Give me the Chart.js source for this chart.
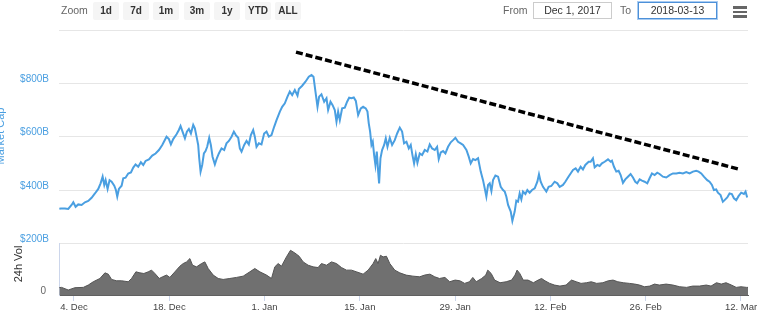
<!DOCTYPE html>
<html>
<head>
<meta charset="utf-8">
<title>Market Cap</title>
<script src="https://cdn.jsdelivr.net/npm/chart.js@4.4.1/dist/chart.umd.min.js"></script>
<style>
    html, body { margin: 0; padding: 0; background: #fff; }
    #wrap { position: relative; width: 768px; height: 332px; overflow: hidden; font-family: "Liberation Sans", Arial, sans-serif; }
    #myChart { position: absolute; left: 0; top: 0; }
    .label { position: absolute; top: 4px; font-size: 10.5px; line-height: 12px; color: #666; }
    .btn { position: absolute; top: 2px; width: 26px; height: 18px; background: #f5f5f5; border-radius: 2px;
           font-size: 10px; font-weight: bold; line-height: 18px; color: #333; text-align: center; }
    .box { position: absolute; top: 2px; width: 77px; height: 15px; border: 1px solid #ccc;
           font-size: 10.5px; line-height: 15px; color: #333; text-align: center; }
    .box.active { border-color: #4d90d8; box-shadow: 0 0 0 1px #a9ccf2; }
    .menu { position: absolute; left: 733px; width: 14px; height: 2.5px; background: #666; }
</style>
</head>
<body>
<div id="wrap">
    <canvas id="myChart" width="768" height="332"></canvas>

    <div class="label" style="left:61px">Zoom</div>
    <div class="btn" style="left:93px">1d</div>
    <div class="btn" style="left:123px">7d</div>
    <div class="btn" style="left:153px">1m</div>
    <div class="btn" style="left:184px">3m</div>
    <div class="btn" style="left:214px">1y</div>
    <div class="btn" style="left:245px">YTD</div>
    <div class="btn" style="left:275px">ALL</div>

    <div class="label" style="left:503px">From</div>
    <div class="box" style="left:533px">Dec 1, 2017</div>
    <div class="label" style="left:620px">To</div>
    <div class="box active" style="left:638px">2018-03-13</div>

    <div class="menu" style="top:6px"></div>
    <div class="menu" style="top:10.5px"></div>
    <div class="menu" style="top:15px"></div>
</div>

<script>
// Data: x values are days since 1 Dec 2017
const mcapDays = [
    0.85, 1.09, 1.67, 2.16, 2.65, 2.90, 3.24, 3.63, 4.12, 4.61, 5.10, 5.59, 6.08, 6.57, 6.91, 7.21, 7.45, 7.65, 7.94, 8.23,
    8.53, 8.92, 9.16, 9.36, 9.60, 10.0, 10.24, 10.58, 10.97, 11.37, 11.71, 12.05, 12.44, 12.83, 13.18, 13.52, 14.01, 14.5,
    14.99, 15.48, 15.97, 16.60, 16.95, 17.24, 17.58, 18.07, 18.41, 18.66, 18.95, 19.30, 19.59, 19.88, 20.18, 20.52, 20.76,
    21.01, 21.25, 21.40, 21.60, 21.84, 22.09, 22.33, 22.57, 22.87, 23.11, 23.36, 23.70, 23.99, 24.29, 24.68, 25.07, 25.41,
    25.76, 26.15, 26.49, 26.78, 27.13, 27.37, 27.62, 28.01, 28.35, 28.69, 28.99, 29.33, 29.57, 29.82, 30.16, 30.55, 30.94,
    31.29, 31.63, 32.02, 32.41, 32.76, 33.25, 33.59,
    33.98, 34.37, 34.71, 35.06, 35.45, 35.84, 36.04, 36.53, 37.01, 37.50, 37.90, 38.19, 38.48, 38.78, 39.02, 39.36, 39.76,
    40.10, 40.34, 40.69, 40.98, 41.32, 41.57, 41.81, 42.06, 42.40, 42.79, 43.13, 43.43, 43.77, 44.11, 44.41, 44.75, 45.14,
    45.48, 45.87, 46.12, 46.31, 46.51, 46.71, 46.90, 47.10, 47.29, 47.49, 47.69, 47.83, 48.03, 48.27, 48.57, 48.81, 49.06,
    49.40, 49.74, 50.13, 50.48, 50.87, 51.21, 51.50, 51.85, 52.19, 52.48, 52.73, 52.97, 53.22, 53.46, 53.80, 54.15, 54.54,
    54.93, 55.27, 55.62, 56.01, 56.35, 56.59, 56.89, 57.23, 57.57, 57.96, 58.36, 58.70, 59.04, 59.43, 59.82, 60.17, 60.66,
    61.00, 61.29, 61.64, 61.98, 62.37, 62.76, 63.10, 63.35, 63.59, 63.84, 64.08, 64.33, 64.57, 64.92, 65.31, 65.70, 66.04,
    66.29, 66.53, 66.78, 67.17, 67.41, 67.75,
    67.99, 68.24, 68.48, 68.73, 68.97, 69.32, 69.61, 69.95, 70.30, 70.69, 71.08, 71.32, 71.57, 71.91, 72.40, 72.74, 73.13,
    73.62, 74.02, 74.36, 74.85, 75.19, 75.58, 75.97, 76.32, 76.71, 77.05, 77.44, 77.78, 78.13, 78.62, 78.91, 79.25, 79.50,
    79.89, 80.23, 80.57, 80.97, 81.46, 81.85, 82.04, 82.34, 82.68, 83.02, 83.32, 83.66, 84.00, 84.39, 84.78, 85.13, 85.47,
    85.76, 86.11, 86.45, 86.84, 87.23, 87.57, 87.92, 88.31, 88.70, 89.04, 89.53, 90.02, 90.51, 91.00, 91.49, 91.98, 92.47,
    92.96, 93.45, 93.94, 94.43, 94.77, 95.16, 95.55, 96.04, 96.38, 96.73, 97.02, 97.36, 97.61, 98.00, 98.34, 98.59, 98.98,
    99.32, 99.66, 99.96, 100.30, 100.64, 101.03, 101.43, 101.67, 101.91
];
// Market cap, billions of USD
const mcapValues = [
    330, 331, 331, 329, 344, 354, 337, 346, 344, 354, 359, 371, 387, 404, 425, 450, 419, 437, 404, 437,
    431, 416, 400, 375, 404, 416, 444, 446, 462, 466, 484, 496, 487, 504, 494, 509, 515, 529,
    537, 550, 569, 600, 591, 571, 591, 609, 625, 640, 619, 594, 619, 629, 612, 644, 631,
    600, 569, 519, 469, 494, 537, 546, 562, 596, 569, 525, 496, 519, 537, 556, 550, 575,
    584, 600, 619, 606, 596, 556, 544, 569, 584, 571, 606, 625, 600, 562, 575, 571, 612,
    619, 600, 606, 637, 662, 694, 712,
    725, 750, 769, 756, 775, 754, 779, 791, 806, 825, 831, 825, 769, 712, 750, 759, 731,
    744, 700, 731, 719, 700, 656, 694, 662, 706, 709, 731, 746, 744, 747, 734, 681, 706,
    712, 706, 694, 650, 619, 569, 581, 531, 494, 544, 469, 425, 519, 550, 569, 594, 562,
    596, 569, 587, 612, 634, 619, 575, 581, 556, 569, 531, 500, 534, 502, 537, 531, 550,
    544, 571, 556, 550, 562, 516, 541, 546, 537, 562, 579, 587, 596, 581, 575, 569, 550,
    525, 500, 516, 512, 519, 469, 437, 406, 375, 419, 425, 396, 437, 454, 450, 412, 400,
    394, 375, 344, 319, 284, 319,
    360, 356, 387, 365, 394, 385, 400, 390, 400, 406, 431, 459, 431, 412, 394, 412, 415,
    431, 425, 412, 419, 431, 447, 462, 475, 481, 469, 487, 477, 494, 506, 506, 519, 485,
    494, 490, 500, 506, 515, 506, 510, 487, 469, 472, 456, 427, 440, 450, 460, 447, 431,
    425, 440, 435, 431, 425, 444, 462, 456, 465, 460, 450, 447, 456, 462, 462, 465, 462,
    467, 462, 469, 472, 469, 462, 450, 437, 431, 419, 400, 402, 390, 381, 356, 362, 372,
    387, 385, 369, 362, 377, 390, 385, 394, 372
];

const volDays = [
    0.85, 1.18, 2.16, 3.14, 4.37, 5.10, 5.83, 6.81, 7.55, 8.04, 8.53, 9.26, 10.0, 10.97, 11.46, 12.1, 12.69, 13.27, 13.91,
    14.4, 14.89, 15.53, 16.02, 16.6, 17.09, 17.83, 18.56, 19.05, 19.54, 20.03, 20.42, 21.01, 21.74, 22.23, 22.72, 23.46,
    24.19, 24.92, 25.9, 26.88, 27.86, 28.84, 29.57, 30.31, 31.29, 32.02, 32.51, 33.0, 33.49, 34.22, 34.81, 35.45, 36.08,
    36.67, 37.41, 38.14, 38.87, 39.36, 40.1, 40.83, 41.57, 42.3, 43.04, 43.77, 44.5, 45.48, 46.22, 46.95, 47.34, 47.68,
    48.03, 48.42, 48.91, 49.4, 50.13, 50.87,
    51.8, 52.8, 53.8, 54.5, 55.3, 56.0, 56.7, 57.5, 58.2, 59.0, 59.7, 60.4, 61.1, 61.6, 62.1, 62.9, 63.5, 63.8, 64.3, 64.8,
    65.6, 66.5, 67.3, 67.8, 68.1, 68.5, 69.0, 69.7, 70.5, 71.2, 71.7, 72.2, 72.9, 73.6, 74.4, 75.3, 76.1, 76.8, 77.5, 78.3,
    79.0, 79.8, 80.7, 81.5, 82.2, 82.9, 83.7, 84.6, 85.4, 86.1, 86.8, 87.6, 88.3, 89.0, 90.0, 91.0, 92.0, 93.0, 93.9, 94.9,
    95.9, 96.6, 97.4, 98.1, 98.8, 99.6, 100.3, 101.0, 101.8, 102.05
];
// 24h volume, billions of USD
const volValues = [
    11.5, 11.8, 7.7, 11.3, 11.8, 15.4, 20.5, 25.6, 34.3, 32.3, 24.1, 22.0, 22.0, 20.5, 25.6, 35.9, 34.3, 33.3, 35.9,
    38.5, 33.3, 25.6, 28.2, 30.8, 27.2, 35.9, 44.6, 48.7, 51.3, 56.4, 46.1, 43.6, 48.7, 51.3, 41.0, 30.8,
    25.6, 24.1, 25.6, 27.2, 29.2, 35.9, 41.0, 35.9, 30.8, 25.6, 43.6, 48.7, 44.6, 59.0, 69.2, 65.1, 60.0,
    51.3, 46.1, 43.6, 42.5, 48.7, 46.1, 51.3, 48.7, 42.5, 38.5, 38.5, 35.9, 32.3, 38.5, 48.7, 56.4, 48.7,
    61.5, 59.0, 60.0, 48.7, 38.5, 34.3,
    30.8, 29.2, 28.2, 30.8, 32.3, 28.2, 25.6, 27.2, 20.5, 23.1, 22.0, 18.0, 20.5, 27.2, 20.5, 25.6, 30.8, 38.5, 33.3, 23.1,
    19.0, 20.5, 23.1, 30.8, 38.5, 33.3, 23.1, 23.1, 19.0, 23.1, 25.6, 22.0, 18.0, 15.4, 13.8, 15.4, 23.1, 20.5, 18.0, 19.0,
    20.5, 18.0, 19.0, 22.0, 23.1, 20.5, 19.0, 18.0, 16.9, 15.4, 12.8, 13.8, 16.9, 15.4, 16.9, 15.4, 12.8, 11.8, 13.8, 13.8,
    15.4, 13.8, 19.0, 16.9, 19.0, 15.4, 11.8, 12.8, 11.8, 11.8
];

// Hand-drawn resistance line
const trendDays = [35.62, 100.56];
const trendValues = [917, 479];

// Tick labels
const xTickDays = [3, 17, 31, 45, 59, 73, 87, 101];
const xTickLabels = ['4. Dec', '18. Dec', '1. Jan', '15. Jan', '29. Jan', '12. Feb', '26. Feb', '12. Mar'];
const mcapTicks = [200, 400, 600, 800, 1000];
const mcapTickLabels = ['$200B', '$400B', '$600B', '$800B', ''];
const volTicks = [0];
const volTickLabels = ['0'];

const blue = '#4a9fe1';
const fontFamily = '"Liberation Sans", Arial, sans-serif';
let myChart = null;

function toPoints(xs, ys) {
    return xs.map((x, i) => ({ x: x, y: ys[i] }));
}

function fixTicks(values) {
    return (scale) => { scale.ticks = values.map(v => ({ value: v })); };
}

// Axis titles drawn on the canvas
const axisTitles = {
    id: 'axisTitles',
    afterDraw(chart) {
        const c = chart.ctx;
        c.save();
        c.textAlign = 'center';

        c.font = '11px ' + fontFamily;
        c.fillStyle = blue;
        c.textBaseline = 'alphabetic';
        c.translate(3.5, 136);
        c.rotate(-Math.PI / 2);
        c.fillText('Market Cap', 0, 0);
        c.setTransform(1, 0, 0, 1, 0, 0);

        c.font = '11px ' + fontFamily;
        c.fillStyle = '#333';
        c.textBaseline = 'middle';
        c.translate(18.5, 264);
        c.rotate(-Math.PI / 2);
        c.fillText('24h Vol', 0, 0);
        c.restore();
    }
};

function showChart() {
    const ctx = document.getElementById('myChart').getContext('2d');
    Chart.defaults.font.family = fontFamily;

    myChart = new Chart(ctx, {
        type: 'line',
        data: {
            datasets: [{
                label: 'Market Cap',
                data: toPoints(mcapDays, mcapValues),
                yAxisID: 'y',
                borderColor: blue,
                borderWidth: 2,
                pointRadius: 0,
                tension: 0,
                fill: false
            }, {
                label: 'Trend',
                data: toPoints(trendDays, trendValues),
                yAxisID: 'y',
                borderColor: '#000',
                borderWidth: 3.5,
                borderDash: [7, 3],
                pointRadius: 0,
                fill: false
            }, {
                label: '24h Vol',
                data: toPoints(volDays, volValues),
                yAxisID: 'vol',
                borderColor: '#555',
                borderWidth: 1,
                backgroundColor: '#707070',
                pointRadius: 0,
                tension: 0,
                fill: 'origin'
            }]
        },
        options: {
            responsive: false,
            animation: false,
            layout: { padding: { top: 30, right: 20, left: 0, bottom: 0 } },
            plugins: {
                legend: { display: false },
                tooltip: { enabled: false }
            },
            scales: {
                x: {
                    type: 'linear',
                    min: 0.8,
                    max: 102.03,
                    afterBuildTicks: fixTicks(xTickDays),
                    afterFit: (scale) => { scale.height = 37; },
                    grid: { drawOnChartArea: false, drawTicks: true, tickLength: 6, color: '#ccd6eb' },
                    border: { color: '#606060' },
                    ticks: {
                        autoSkip: false,
                        maxRotation: 0,
                        padding: 1,
                        color: '#444',
                        font: { size: 9.5 },
                        callback: (value, index) => xTickLabels[index]
                    }
                },
                y: {
                    position: 'left',
                    stack: 'panes',
                    stackWeight: 4.13,
                    weight: 2,
                    min: 200,
                    max: 1000,
                    afterBuildTicks: fixTicks(mcapTicks),
                    afterFit: (scale) => { scale.width = 59; },
                    grid: { color: '#e6e6e6', drawTicks: false },
                    border: { display: false },
                    ticks: {
                        padding: 10,
                        labelOffset: -4,
                        color: blue,
                        font: { size: 10 },
                        callback: (value, index) => mcapTickLabels[index]
                    }
                },
                vol: {
                    position: 'left',
                    stack: 'panes',
                    stackWeight: 1,
                    weight: 1,
                    min: 0,
                    max: 80,
                    afterBuildTicks: fixTicks(volTicks),
                    afterFit: (scale) => { scale.width = 59; },
                    grid: { display: false, drawTicks: false },
                    border: { display: true, color: '#ccd6eb' },
                    ticks: {
                        padding: 13,
                        labelOffset: -4,
                        color: '#666',
                        font: { size: 10 },
                        callback: (value, index) => volTickLabels[index]
                    }
                }
            }
        },
        plugins: [axisTitles]
    });
}

document.addEventListener('DOMContentLoaded', showChart);
</script>
</body>
</html>
